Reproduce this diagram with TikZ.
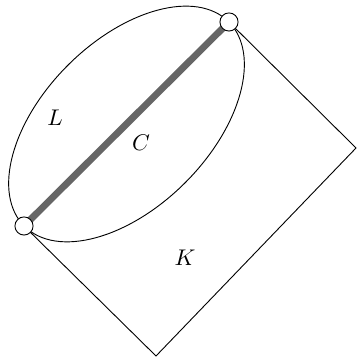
\documentclass[tikz,border=0pt]{standalone}
\usepackage{amsmath,amssymb}
\usepackage{xcolor}
\usepackage{tikz}
\usetikzlibrary{positioning}
\tikzstyle{port} = [
    circle,
    draw,
    fill=white,
    inner sep=0pt,
    minimum size=8pt
]
\tikzstyle{cut} = [
    line width=3pt,
    black!60
]

\begin{document}
\begin{tikzpicture}[x=0.0155cm,y=0.0155cm]

\useasboundingbox (0,0) rectangle (356,357);

\coordinate (a) at (24,131);
\coordinate (b) at (229,335);
\coordinate (r) at (356,209);
\coordinate (d) at (156,1);
\coordinate (mid) at (126.5,233);

\draw[rotate around={45:(mid)}] (mid) ellipse (144.5 and 83);

\draw (a) -- (d) -- (r) -- (b);

\draw[cut] (a) -- (b);

\node[port] (pa) at (a) {};
\node[port] (pb) at (b) {};

\node (lL) at (55,239) {$L$};
\node (lC) at (141,214) {$C$};
\node (lK) at (185,99) {$K$};

\end{tikzpicture}
\end{document}
